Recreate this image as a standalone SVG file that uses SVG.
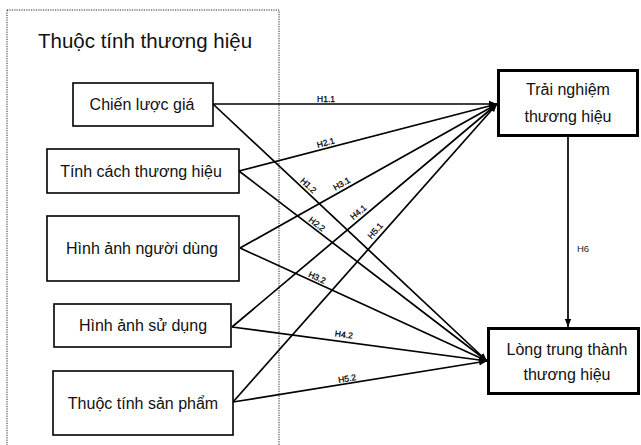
<svg xmlns="http://www.w3.org/2000/svg" width="641" height="445" viewBox="0 0 641 445">
<defs>
<marker id="arr" viewBox="0 0 10 10" refX="10" refY="5" markerWidth="8" markerHeight="8" markerUnits="userSpaceOnUse" orient="auto">
<path d="M0,1 L10,5 L0,9 Z" fill="#000"/>
</marker>
</defs>
<style>
.bx{fill:#fff;stroke:#000;stroke-width:1.6}
.bxt{fill:#fff;stroke:#000;stroke-width:3}
.t{font-family:"Liberation Sans",Arial,sans-serif;font-size:16px;fill:#111;text-anchor:middle}
.ttl{font-family:"Liberation Sans",Arial,sans-serif;font-size:20.5px;fill:#111}
.ln{stroke:#000;stroke-width:1.7;fill:none;marker-end:url(#arr)}
.lb{font-family:"Liberation Sans",Arial,sans-serif;font-size:8.5px;fill:#000;text-anchor:middle;stroke:#000;stroke-width:0.25}
.h6{font-family:"Liberation Sans",Arial,sans-serif;font-size:9.5px;fill:#222}
</style>
<rect width="641" height="445" fill="#fff"/>
<rect id="group-frame" x="7" y="10" width="272" height="445" fill="none" stroke="#222" stroke-width="1" stroke-dasharray="1.2,1.2"/>
<text class="ttl" x="38" y="48">Thuộc tính thương hiệu</text>

<g id="connectors">
<line class="ln" x1="213" y1="104" x2="497" y2="104"/>
<line class="ln" x1="213" y1="104" x2="487" y2="361"/>
<line class="ln" x1="239" y1="171" x2="497" y2="104"/>
<line class="ln" x1="239" y1="171" x2="487" y2="361"/>
<line class="ln" x1="240" y1="248" x2="497" y2="104"/>
<line class="ln" x1="240" y1="248" x2="487" y2="361"/>
<line class="ln" x1="232" y1="327" x2="497" y2="104"/>
<line class="ln" x1="232" y1="327" x2="487" y2="361"/>
<line class="ln" x1="233" y1="402" x2="497" y2="104"/>
<line class="ln" x1="233" y1="402" x2="487" y2="361"/>
<line class="ln" x1="568" y1="137" x2="568" y2="327"/>
<text class="lb" transform="translate(326,104)" y="-2">H1.1</text>
<text class="lb" transform="translate(305,189) rotate(43)" y="-2">H1.2</text>
<text class="lb" transform="translate(327,147.5) rotate(-15)" y="-2">H2.1</text>
<text class="lb" transform="translate(314,228) rotate(37.5)" y="-2">H2.2</text>
<text class="lb" transform="translate(344,188) rotate(-29.5)" y="-2">H3.1</text>
<text class="lb" transform="translate(315,282) rotate(24.5)" y="-2">H3.2</text>
<text class="lb" transform="translate(361.5,216) rotate(-40.5)" y="-2">H4.1</text>
<text class="lb" transform="translate(343,341.5) rotate(7.5)" y="-4">H4.2</text>
<text class="lb" transform="translate(379,234) rotate(-48.5)" y="-2">H5.1</text>
<text class="lb" transform="translate(348,383.5) rotate(-9.3)" y="-2">H5.2</text>
<text class="h6" x="577" y="252">H6</text>
</g>

<g id="n1"><rect class="bx" x="73" y="83" width="140" height="43"/><text class="t" x="142" y="110">Chiến lược giá</text></g>
<g id="n2"><rect class="bx" x="47" y="149" width="192" height="44"/><text class="t" x="141" y="177">Tính cách thương hiệu</text></g>
<g id="n3"><rect class="bx" x="47" y="216" width="192" height="65"/><text class="t" x="142" y="254">Hình ảnh người dùng</text></g>
<g id="n4"><rect class="bx" x="54" y="304" width="177" height="43"/><text class="t" x="143" y="331">Hình ảnh sử dụng</text></g>
<g id="n5"><rect class="bx" x="53" y="371" width="180" height="64"/><text class="t" x="143" y="409">Thuộc tính sản phẩm</text></g>
<g id="n6"><rect class="bxt" x="498.5" y="70.5" width="139" height="65"/><text class="t" x="568" y="95">Trải nghiệm</text><text class="t" x="568" y="122">thương hiệu</text></g>
<g id="n7"><rect class="bxt" x="488.5" y="328.5" width="150" height="65"/><text class="t" x="567" y="355">Lòng trung thành</text><text class="t" x="567" y="380">thương hiệu</text></g>
</svg>
